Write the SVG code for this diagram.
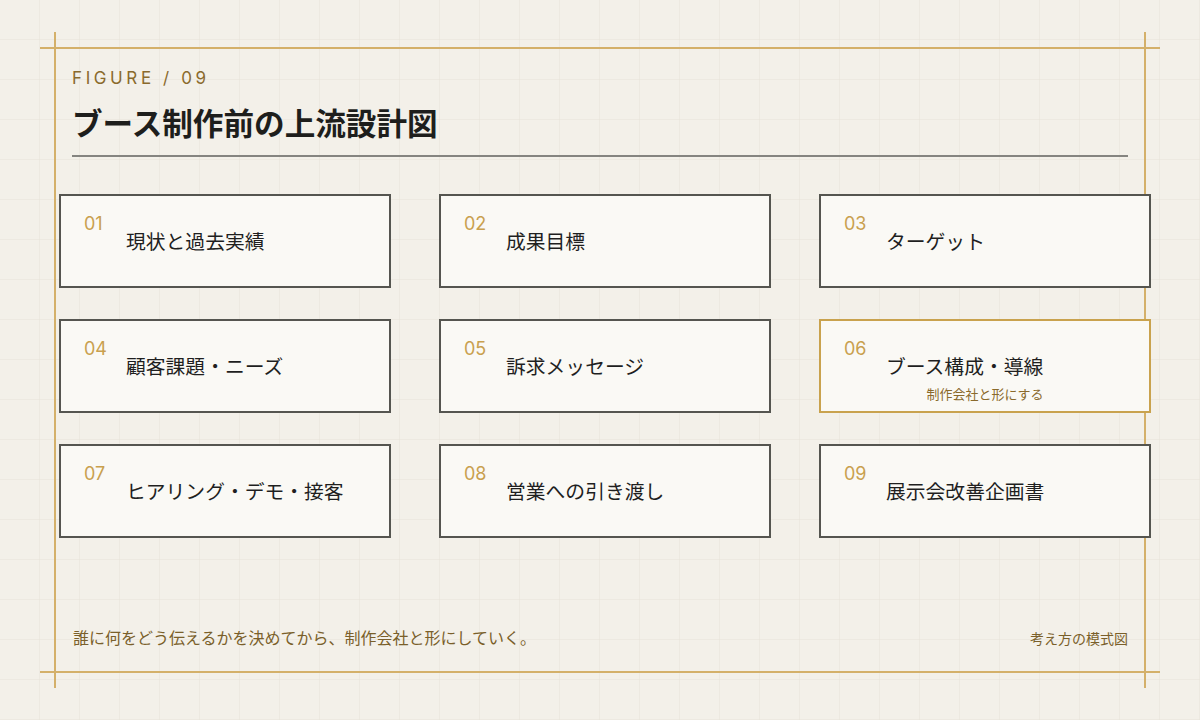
<svg xmlns="http://www.w3.org/2000/svg" width="1200" height="720" viewBox="0 0 1200 720">
<defs>
<pattern id="grid" width="40" height="40" patternUnits="userSpaceOnUse">
<path d="M40 0V40M0 40H40" fill="none" stroke="#e7e3d9" stroke-width="1"/>
</pattern>
</defs>
<style>
.card{fill:#faf9f5;stroke:#555550;stroke-width:2}
.card.hl{stroke:#c9a24e}
.num{font-family:"Inter","Noto Sans",sans-serif;font-size:18px;fill:#c9a04e}
.lbl{font-family:"Noto Sans CJK JP",sans-serif;font-size:19.8px;font-weight:400;fill:#1f1f1f}
.sub{font-family:"Noto Sans CJK JP",sans-serif;font-size:13px;font-weight:400;fill:#8a6a2c}
.frame{stroke:#d4b06a;stroke-width:2;fill:none}
</style>
<rect width="1200" height="720" fill="#f3f0e9"/>
<rect width="1200" height="720" fill="url(#grid)"/>
<g id="frame">
<line class="frame" x1="40" y1="48" x2="1160" y2="48"/>
<line class="frame" x1="40" y1="672" x2="1160" y2="672"/>
<line class="frame" x1="55" y1="32" x2="55" y2="688"/>
<line class="frame" x1="1145" y1="32" x2="1145" y2="688"/>
</g>
<g id="header">
<text x="72" y="84" font-family="Inter,'Noto Sans',sans-serif" font-size="17" font-weight="400" letter-spacing="3.6" fill="#8a6a2c">FIGURE / 09</text>
<text x="72" y="135" font-family="'Noto Sans CJK JP',sans-serif" font-size="30.6" font-weight="700" fill="#1e1e1c">ブース制作前の上流設計図</text>
<line x1="72" y1="156" x2="1128" y2="156" stroke="#858480" stroke-width="2"/>
</g>
<g id="connectors"></g>
<g id="n01"><rect class="card" x="60" y="195" width="330" height="92"/><text class="num" x="84" y="230">01</text><text class="lbl" x="126" y="249">現状と過去実績</text></g>
<g id="n02"><rect class="card" x="440" y="195" width="330" height="92"/><text class="num" x="464" y="230">02</text><text class="lbl" x="506" y="249">成果目標</text></g>
<g id="n03"><rect class="card" x="820" y="195" width="330" height="92"/><text class="num" x="844" y="230">03</text><text class="lbl" x="886" y="249">ターゲット</text></g>
<g id="n04"><rect class="card" x="60" y="320" width="330" height="92"/><text class="num" x="84" y="355">04</text><text class="lbl" x="126" y="374">顧客課題・ニーズ</text></g>
<g id="n05"><rect class="card" x="440" y="320" width="330" height="92"/><text class="num" x="464" y="355">05</text><text class="lbl" x="506" y="374">訴求メッセージ</text></g>
<g id="n06"><rect class="card hl" x="820" y="320" width="330" height="92"/><text class="num" x="844" y="355">06</text><text class="lbl" x="886" y="374">ブース構成・導線</text><text class="sub" x="985" y="399" text-anchor="middle">制作会社と形にする</text></g>
<g id="n07"><rect class="card" x="60" y="445" width="330" height="92"/><text class="num" x="84" y="480">07</text><text class="lbl" x="126" y="499">ヒアリング・デモ・接客</text></g>
<g id="n08"><rect class="card" x="440" y="445" width="330" height="92"/><text class="num" x="464" y="480">08</text><text class="lbl" x="506" y="499">営業への引き渡し</text></g>
<g id="n09"><rect class="card" x="820" y="445" width="330" height="92"/><text class="num" x="844" y="480">09</text><text class="lbl" x="886" y="499">展示会改善企画書</text></g>
<g id="footer">
<text x="73" y="644" font-family="'Noto Sans CJK JP',sans-serif" font-size="16" font-weight="400" fill="#7a5f2a">誰に何をどう伝えるかを決めてから、制作会社と形にしていく。</text>
<text x="1128" y="644" text-anchor="end" font-family="'Noto Sans CJK JP',sans-serif" font-size="14" font-weight="400" fill="#7a5f2a">考え方の模式図</text>
</g>
</svg>
